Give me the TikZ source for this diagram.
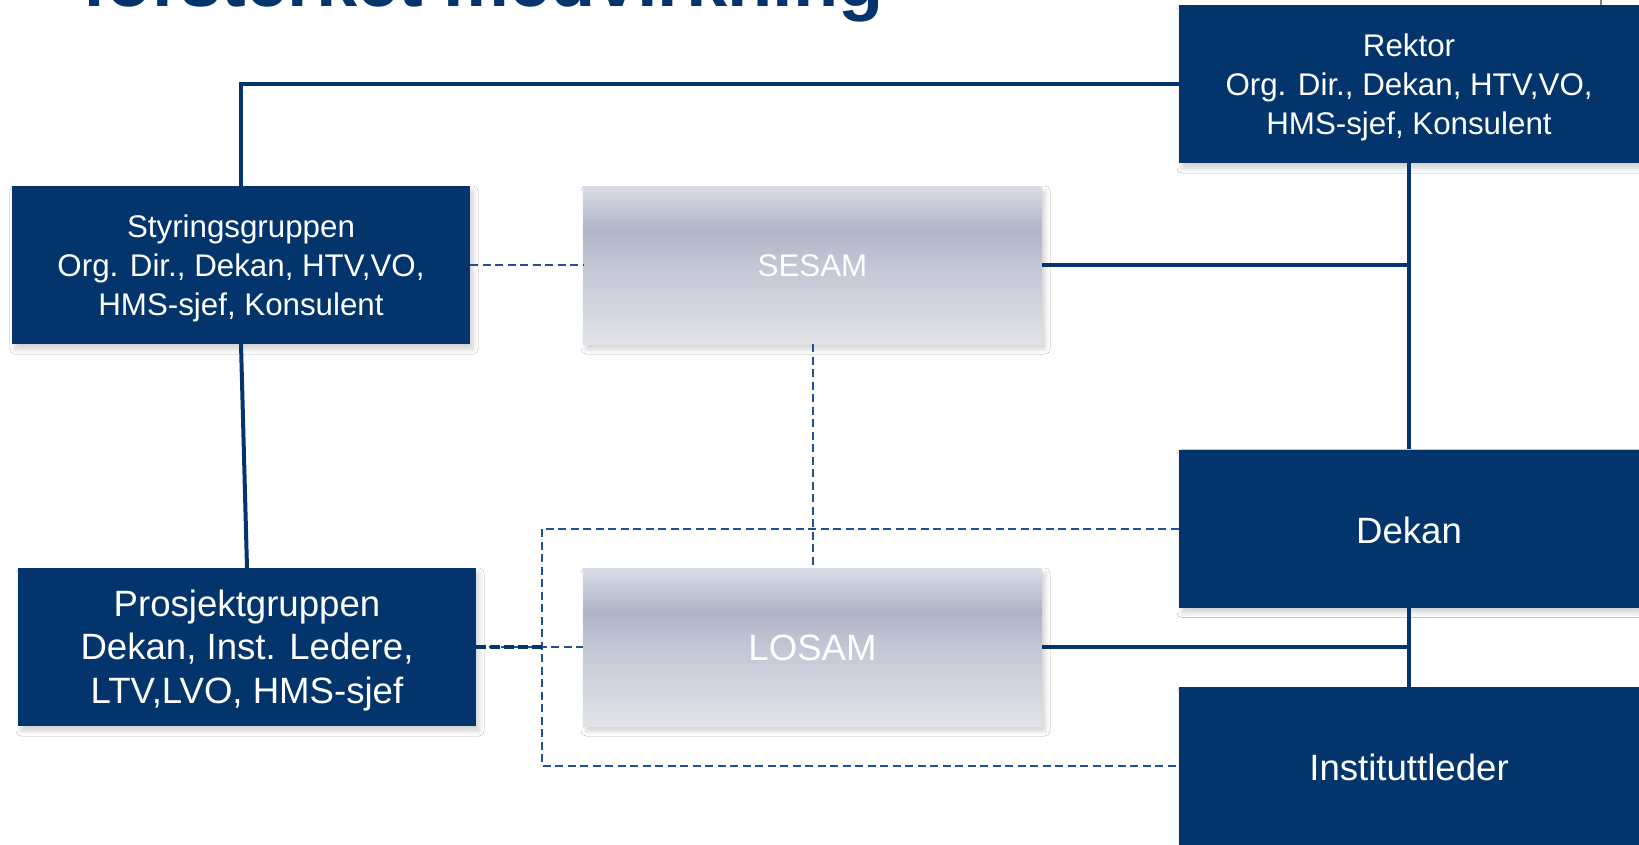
\documentclass[tikz,border=0pt]{standalone}
\usepackage{fontspec}
\setmainfont{Liberation Sans}
\usetikzlibrary{shadows.blur}
\definecolor{navy}{RGB}{3,53,108}
\definecolor{dashblue}{RGB}{30,80,155}
\definecolor{gtop}{RGB}{218,221,230}
\definecolor{gdark}{RGB}{175,180,199}
\definecolor{gmid}{RGB}{195,198,212}
\definecolor{gbot}{RGB}{225,227,233}
\pgfdeclareverticalshading{samshade}{100bp}{color(0bp)=(gbot); color(25bp)=(gbot); color(50bp)=(gmid); color(61bp)=(gdark); color(75bp)=(gtop); color(100bp)=(gtop)}
\tikzset{
  softshadow/.style={blur shadow={shadow xshift=3pt, shadow yshift=-5pt, shadow blur radius=5pt, shadow opacity=18}},
  navybox/.style={rectangle, fill=navy, minimum width=460pt, minimum height=158pt, inner sep=0pt, softshadow},
  sambox/.style={rectangle, shading=samshade, minimum width=459pt, minimum height=158pt, inner sep=0pt, softshadow},
  boxtext/.style={text=white, align=center, inner sep=0pt},
  smallfont/.style={font=\fontsize{31.3}{38.8}\selectfont},
  bigfont/.style={font=\fontsize{36.6}{43.9}\selectfont},
  solidline/.style={draw=navy, line width=4pt},
  dline/.style={draw=dashblue, line width=2pt, dash pattern=on 8pt off 4.5pt},
  thickdline/.style={draw=navy, line width=3.5pt, dash pattern=on 10pt off 4pt},
}
\begin{document}
\begin{tikzpicture}[x=1pt, y=-1pt]
\useasboundingbox (0,0) rectangle (1639,844);
\fill[white] (0,0) rectangle (1639,844);
\clip (0,0) rectangle (1639,844);

% title (cut off at top, as in the reference)
\node[anchor=base west, inner sep=0pt, text=navy, font=\fontsize{74}{80}\selectfont\bfseries] (title) at (82,6) {forsterket medvirkning};

% slide border fragment
\coordinate (bt) at (1600.5,0);
\coordinate (bb) at (1600.5,8);
\draw[gray, line width=2pt] (bt) -- (bb);

% boxes
\node[navybox] (rektor) at (1409,84) {};
\node[navybox, minimum width=458pt] (styr) at (241,265) {};
\node[sambox] (sesam) at (812.5,265) {};
\node[navybox] (dekan) at (1409,528.5) {};
\node[navybox] (inst) at (1409,766) {};
\node[sambox] (losam) at (812.5,647) {};
\node[navybox, minimum width=458pt] (prosj) at (247,647) {};

% texts
\node[boxtext, smallfont] (rektor-t) at ([yshift=-3.5pt]rektor.center) {Rektor\\Org. Dir., Dekan, HTV,VO,\\HMS-sjef, Konsulent};
\node[boxtext, smallfont] (styr-t) at ([yshift=-3.5pt]styr.center) {Styringsgruppen\\Org. Dir., Dekan, HTV,VO,\\HMS-sjef, Konsulent};
\node[boxtext, smallfont] (sesam-t) at ([yshift=-1pt]sesam.center) {SESAM};
\node[boxtext, bigfont] (dekan-t) at ([yshift=-1.5pt]dekan.center) {Dekan};
\node[boxtext, bigfont] (inst-t) at ([yshift=-1pt]inst.center) {Instituttleder};
\node[boxtext, bigfont] (losam-t) at ([yshift=-1pt]losam.center) {LOSAM};
\node[boxtext, bigfont] (prosj-t) at ([yshift=-3.5pt]prosj.center) {Prosjektgruppen\\Dekan, Inst. Ledere,\\LTV,LVO, HMS-sjef};

% dashed loop coordinates
\coordinate (loopx) at (542,0);
\coordinate (lt) at (loopx |- dekan.west);
\coordinate (lb) at (loopx |- inst.west);
\coordinate (pj) at (loopx |- prosj.east);

% solid connectors
\draw[solidline] (rektor.west) -- (styr.north |- rektor.west) -- (styr.north);
\draw[solidline] (styr.south) -- (prosj.north);
\draw[solidline] (rektor.south) -- (dekan.north);
\draw[solidline] (sesam.east) -- (rektor.south |- sesam.east);
\draw[solidline] (dekan.south) -- (inst.north);
\draw[solidline] (losam.east) -- (dekan.south |- losam.east);

% dashed connectors
\draw[dline] (styr.east) -- (sesam.west);
\draw[dline] (sesam.south) -- (losam.north);
\draw[dline] (dekan.west) -- (lt) -- (lb) -- (inst.west);
\draw[dline] (prosj.east) -- (losam.west);
\draw[thickdline] (prosj.east) -- (pj);
\end{tikzpicture}
\end{document}
